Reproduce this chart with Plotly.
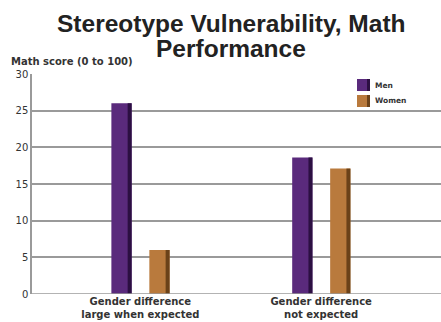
import plotly.graph_objects as go

categories = ["Gender difference<br>large when expected", "Gender difference<br>not expected"]
series_names = ["Men", "Women"]
men = [26.0, 18.6]
women = [6.0, 17.1]
y_ticks = [0, 5, 10, 15, 20, 25, 30]

x_pos = list(range(len(categories)))

MEN = "#5a2a7c"
MEN_DARK = "#2c0f42"
WOMEN = "#b97a3d"
WOMEN_DARK = "#6b4219"
SMALL_FONT = "DejaVu Sans, Verdana, sans-serif"

BAR_W = 0.112
SIDE_W = 0.022

W, H = 441, 322
L, R, T, B = 32, 0, 74, 28
plot_w = W - L - R
plot_h = H - T - B


def px_to_paper(px, py):
    return (px - L) / plot_w, (H - B - py) / plot_h


fig = go.Figure()

# main bar faces
fig.add_trace(go.Bar(x=x_pos, y=men, name=series_names[0], marker_color=MEN,
                     width=BAR_W, offset=-0.16, marker_line_width=0))
fig.add_trace(go.Bar(x=x_pos, y=women, name=series_names[1], marker_color=WOMEN,
                     width=BAR_W, offset=0.05, marker_line_width=0))
# darker right-hand side for a shaded look
fig.add_trace(go.Bar(x=x_pos, y=men, marker_color=MEN_DARK,
                     width=SIDE_W, offset=-0.16 + BAR_W - SIDE_W, marker_line_width=0,
                     hoverinfo="skip"))
fig.add_trace(go.Bar(x=x_pos, y=women, marker_color=WOMEN_DARK,
                     width=SIDE_W, offset=0.05 + BAR_W - SIDE_W, marker_line_width=0,
                     hoverinfo="skip"))

annotations = []
shapes = []

# title, two centred lines
for text, py in [("<b>Stereotype Vulnerability, Math</b>", 24), ("<b>Performance</b>", 48)]:
    ax, ay = px_to_paper(231, py)
    annotations.append(dict(text=text, x=ax, y=ay, xref="paper", yref="paper",
                            xanchor="center", yanchor="middle", showarrow=False,
                            font=dict(family="Liberation Sans, Arial, sans-serif",
                                      size=24.5, color="#222222")))

# y-axis caption above the axis
ax, ay = px_to_paper(9, 61)
annotations.append(dict(text="<b>Math score (0 to 100)</b>", x=ax, y=ay,
                        xref="paper", yref="paper", xanchor="left", yanchor="middle",
                        showarrow=False,
                        font=dict(family=SMALL_FONT, size=10, color="#333333")))

# legend: swatch with shaded side plus label
for name, face, side, py in [(series_names[0], MEN, MEN_DARK, 85),
                             (series_names[1], WOMEN, WOMEN_DARK, 101)]:
    x0, y0 = px_to_paper(357, py + 6)
    x1, y1 = px_to_paper(370, py - 6)
    xs, _ = px_to_paper(367, py)
    shapes.append(dict(type="rect", xref="paper", yref="paper", x0=x0, x1=x1,
                       y0=y0, y1=y1, fillcolor=face, line_width=0))
    shapes.append(dict(type="rect", xref="paper", yref="paper", x0=xs, x1=x1,
                       y0=y0, y1=y1, fillcolor=side, line_width=0))
    tx, ty = px_to_paper(373, py)
    annotations.append(dict(text="<b>" + name + "</b>", x=tx, y=ty, xref="paper",
                            yref="paper", xanchor="left", yanchor="middle",
                            showarrow=False,
                            font=dict(family=SMALL_FONT, size=7.5, color="#333333")))

# bottom axis line at y = 0
shapes.append(dict(type="line", xref="paper", yref="y", x0=0, x1=1, y0=0, y1=0,
                   line=dict(color="#9a9a9a", width=1.5)))

fig.update_layout(
    width=W, height=H,
    margin=dict(l=L, r=R, t=T, b=B),
    paper_bgcolor="white", plot_bgcolor="white",
    barmode="overlay",
    font=dict(family=SMALL_FONT, color="#333333"),
    showlegend=False,
    xaxis=dict(range=[-0.599, 1.663], tickvals=x_pos,
               ticktext=["<b>" + c + "</b>" for c in categories],
               showgrid=False, zeroline=False, showline=False,
               ticks="", tickfont=dict(size=10, color="#333333")),
    yaxis=dict(range=[0, 30], tickvals=y_ticks, showgrid=True,
               gridcolor="#9a9a9a", gridwidth=1.5, zeroline=False,
               showline=True, linecolor="#9a9a9a", linewidth=1.5,
               ticks="", tickfont=dict(size=10, color="#333333")),
    annotations=annotations,
    shapes=shapes,
)

fig.write_html("out.html")
